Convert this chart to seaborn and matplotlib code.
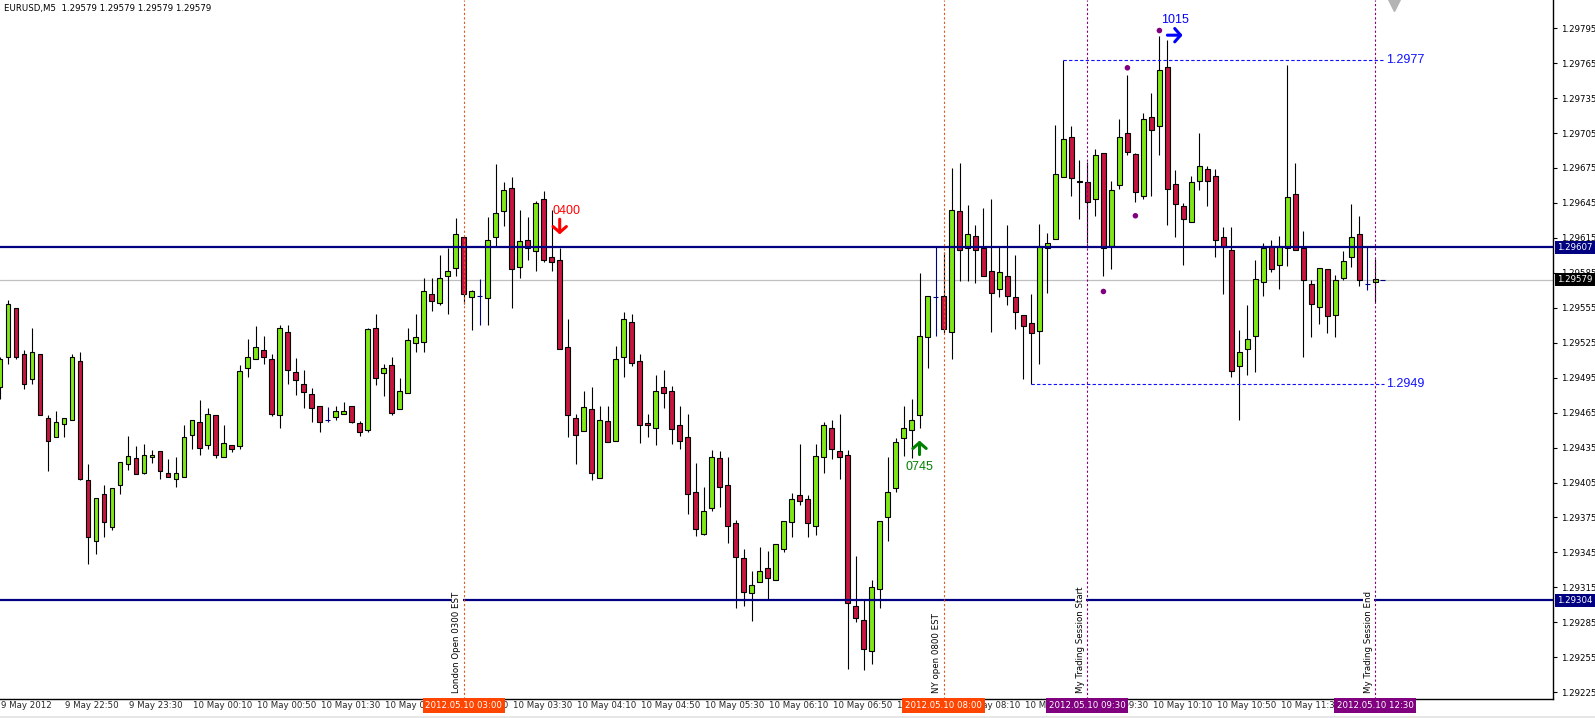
"""
plot.py - EURUSD M5 candlestick chart, MT4 style, 9-10 May 2012.
"""
import matplotlib
matplotlib.use("Agg")
import matplotlib.pyplot as plt
import matplotlib.transforms as mtransforms
from matplotlib.patches import Rectangle
import numpy as np
import pandas as pd
import seaborn as sns

# ---------------------------------------------------------------------------
# Data (5-minute bars, bar 0 = 9 May 22:10, bar 172 = 10 May 12:30)
# ---------------------------------------------------------------------------
opens = [
    1.29487, 1.29513, 1.29555, 1.29515, 1.29494, 1.29515, 1.29460, 1.29444, 1.29455, 1.29459,
    1.29509, 1.29407, 1.29355, 1.29395, 1.29367, 1.29403, 1.29421, 1.29426, 1.29413, 1.29427,
    1.29432, 1.29413, 1.29408, 1.29410, 1.29446, 1.29457, 1.29437, 1.29463, 1.29427, 1.29437,
    1.29436, 1.29503, 1.29511, 1.29519, 1.29511, 1.29463, 1.29534, 1.29500, 1.29490, 1.29481,
    1.29471, 1.29459, 1.29461, 1.29464, 1.29471, 1.29456, 1.29450, 1.29538, 1.29499, 1.29506,
    1.29468, 1.29482, 1.29525, 1.29526, 1.29567, 1.29559, 1.29582, 1.29589, 1.29616, 1.29564,
    1.29565, 1.29563, 1.29616, 1.29638, 1.29658, 1.29590, 1.29613, 1.29604, 1.29648, 1.29599,
    1.29596, 1.29521, 1.29460, 1.29449, 1.29468, 1.29409, 1.29458, 1.29441, 1.29513, 1.29543,
    1.29509, 1.29456, 1.29452, 1.29487, 1.29484, 1.29454, 1.29444, 1.29397, 1.29361, 1.29383,
    1.29426, 1.29403, 1.29370, 1.29340, 1.29310, 1.29320, 1.29332, 1.29321, 1.29348, 1.29371,
    1.29394, 1.29391, 1.29368, 1.29427, 1.29452, 1.29432, 1.29429, 1.29299, 1.29287, 1.29260,
    1.29314, 1.29375, 1.29400, 1.29443, 1.29450, 1.29463, 1.29530, 1.29564, 1.29565, 1.29534,
    1.29638, 1.29606, 1.29617, 1.29606, 1.29587, 1.29571, 1.29582, 1.29564, 1.29549, 1.29542,
    1.29535, 1.29606, 1.29614, 1.29667, 1.29702, 1.29663, 1.29663, 1.29648, 1.29688, 1.29608,
    1.29660, 1.29705, 1.29687, 1.29651, 1.29719, 1.29711, 1.29762, 1.29661, 1.29642, 1.29629,
    1.29664, 1.29674, 1.29668, 1.29616, 1.29605, 1.29505, 1.29520, 1.29531, 1.29577, 1.29608,
    1.29592, 1.29606, 1.29653, 1.29606, 1.29575, 1.29556, 1.29588, 1.29549, 1.29581, 1.29599,
    1.29618, 1.29575, 1.29577,
]
highs = [
    1.29513, 1.29562, 1.29555, 1.29519, 1.29538, 1.29515, 1.29463, 1.29466, 1.29460, 1.29515,
    1.29517, 1.29421, 1.29392, 1.29403, 1.29400, 1.29423, 1.29445, 1.29436, 1.29438, 1.29433,
    1.29432, 1.29425, 1.29427, 1.29454, 1.29459, 1.29476, 1.29469, 1.29463, 1.29454, 1.29437,
    1.29506, 1.29528, 1.29539, 1.29531, 1.29515, 1.29540, 1.29540, 1.29512, 1.29502, 1.29486,
    1.29471, 1.29470, 1.29471, 1.29474, 1.29471, 1.29458, 1.29538, 1.29550, 1.29507, 1.29513,
    1.29495, 1.29538, 1.29550, 1.29581, 1.29581, 1.29600, 1.29606, 1.29632, 1.29616, 1.29570,
    1.29580, 1.29633, 1.29678, 1.29663, 1.29667, 1.29639, 1.29633, 1.29647, 1.29655, 1.29639,
    1.29606, 1.29545, 1.29464, 1.29484, 1.29487, 1.29471, 1.29471, 1.29522, 1.29551, 1.29550,
    1.29515, 1.29464, 1.29497, 1.29502, 1.29488, 1.29471, 1.29464, 1.29422, 1.29401, 1.29433,
    1.29432, 1.29427, 1.29373, 1.29348, 1.29329, 1.29350, 1.29346, 1.29352, 1.29372, 1.29396,
    1.29438, 1.29394, 1.29438, 1.29457, 1.29459, 1.29464, 1.29433, 1.29342, 1.29304, 1.29321,
    1.29372, 1.29427, 1.29443, 1.29471, 1.29477, 1.29585, 1.29565, 1.29607, 1.29603, 1.29675,
    1.29679, 1.29643, 1.29626, 1.29641, 1.29648, 1.29608, 1.29626, 1.29600, 1.29549, 1.29567,
    1.29627, 1.29619, 1.29712, 1.29768, 1.29711, 1.29682, 1.29680, 1.29691, 1.29688, 1.29664,
    1.29717, 1.29755, 1.29688, 1.29722, 1.29739, 1.29788, 1.29785, 1.29673, 1.29645, 1.29668,
    1.29705, 1.29677, 1.29674, 1.29624, 1.29624, 1.29536, 1.29557, 1.29596, 1.29611, 1.29613,
    1.29617, 1.29763, 1.29679, 1.29621, 1.29579, 1.29589, 1.29588, 1.29583, 1.29604, 1.29644,
    1.29634, 1.29607, 1.29597,
]
lows = [
    1.29477, 1.29507, 1.29511, 1.29485, 1.29490, 1.29463, 1.29415, 1.29444, 1.29444, 1.29459,
    1.29407, 1.29335, 1.29344, 1.29358, 1.29364, 1.29395, 1.29416, 1.29412, 1.29412, 1.29422,
    1.29408, 1.29410, 1.29401, 1.29410, 1.29434, 1.29429, 1.29434, 1.29426, 1.29427, 1.29431,
    1.29434, 1.29496, 1.29511, 1.29507, 1.29462, 1.29452, 1.29490, 1.29480, 1.29469, 1.29457,
    1.29448, 1.29457, 1.29459, 1.29464, 1.29456, 1.29445, 1.29448, 1.29489, 1.29479, 1.29463,
    1.29468, 1.29482, 1.29517, 1.29517, 1.29552, 1.29557, 1.29550, 1.29582, 1.29558, 1.29536,
    1.29540, 1.29540, 1.29608, 1.29625, 1.29555, 1.29581, 1.29596, 1.29587, 1.29594, 1.29587,
    1.29520, 1.29444, 1.29421, 1.29449, 1.29407, 1.29409, 1.29440, 1.29441, 1.29496, 1.29505,
    1.29439, 1.29444, 1.29437, 1.29469, 1.29438, 1.29434, 1.29378, 1.29359, 1.29360, 1.29381,
    1.29384, 1.29353, 1.29297, 1.29299, 1.29286, 1.29320, 1.29305, 1.29321, 1.29345, 1.29358,
    1.29386, 1.29358, 1.29360, 1.29413, 1.29425, 1.29408, 1.29245, 1.29285, 1.29244, 1.29249,
    1.29297, 1.29355, 1.29397, 1.29428, 1.29426, 1.29452, 1.29503, 1.29531, 1.29533, 1.29511,
    1.29578, 1.29578, 1.29576, 1.29582, 1.29534, 1.29564, 1.29557, 1.29537, 1.29494, 1.29490,
    1.29507, 1.29568, 1.29614, 1.29667, 1.29651, 1.29631, 1.29611, 1.29634, 1.29582, 1.29588,
    1.29657, 1.29686, 1.29646, 1.29648, 1.29651, 1.29686, 1.29626, 1.29616, 1.29592, 1.29629,
    1.29656, 1.29642, 1.29599, 1.29567, 1.29496, 1.29459, 1.29497, 1.29500, 1.29565, 1.29586,
    1.29571, 1.29591, 1.29605, 1.29513, 1.29530, 1.29541, 1.29533, 1.29530, 1.29579, 1.29590,
    1.29574, 1.29570, 1.29560,
]
closes = [
    1.29511, 1.29558, 1.29513, 1.29490, 1.29517, 1.29463, 1.29441, 1.29457, 1.29460, 1.29513,
    1.29408, 1.29358, 1.29392, 1.29371, 1.29400, 1.29423, 1.29428, 1.29412, 1.29429, 1.29429,
    1.29415, 1.29410, 1.29413, 1.29444, 1.29459, 1.29435, 1.29464, 1.29429, 1.29439, 1.29434,
    1.29501, 1.29513, 1.29521, 1.29513, 1.29464, 1.29538, 1.29502, 1.29493, 1.29483, 1.29469,
    1.29457, 1.29459, 1.29466, 1.29466, 1.29457, 1.29448, 1.29537, 1.29495, 1.29503, 1.29465,
    1.29484, 1.29527, 1.29530, 1.29569, 1.29561, 1.29581, 1.29587, 1.29618, 1.29567, 1.29569,
    1.29565, 1.29613, 1.29636, 1.29656, 1.29588, 1.29612, 1.29606, 1.29645, 1.29596, 1.29594,
    1.29520, 1.29463, 1.29446, 1.29470, 1.29413, 1.29459, 1.29440, 1.29511, 1.29545, 1.29508,
    1.29454, 1.29454, 1.29484, 1.29482, 1.29451, 1.29441, 1.29395, 1.29365, 1.29381, 1.29427,
    1.29401, 1.29368, 1.29341, 1.29311, 1.29317, 1.29329, 1.29323, 1.29352, 1.29372, 1.29391,
    1.29389, 1.29370, 1.29428, 1.29454, 1.29434, 1.29427, 1.29302, 1.29289, 1.29262, 1.29315,
    1.29372, 1.29397, 1.29440, 1.29452, 1.29459, 1.29531, 1.29565, 1.29564, 1.29537, 1.29639,
    1.29605, 1.29618, 1.29605, 1.29582, 1.29568, 1.29586, 1.29565, 1.29551, 1.29539, 1.29533,
    1.29608, 1.29611, 1.29670, 1.29700, 1.29666, 1.29664, 1.29646, 1.29686, 1.29606, 1.29656,
    1.29702, 1.29689, 1.29654, 1.29717, 1.29708, 1.29759, 1.29657, 1.29644, 1.29631, 1.29663,
    1.29677, 1.29664, 1.29613, 1.29607, 1.29501, 1.29517, 1.29528, 1.29580, 1.29606, 1.29588,
    1.29608, 1.29650, 1.29605, 1.29579, 1.29558, 1.29589, 1.29548, 1.29579, 1.29595, 1.29616,
    1.29579, 1.29575, 1.29580,
]

# time axis labels, one every 8 bars (40 minutes); 12:10 sits under the 12:30 stamp
time_labels = [
    "9 May 2012", "9 May 22:50", "9 May 23:30", "10 May 00:10", "10 May 00:50",
    "10 May 01:30", "10 May 02:10", "10 May 02:50", "10 May 03:30", "10 May 04:10",
    "10 May 04:50", "10 May 05:30", "10 May 06:10", "10 May 06:50", "10 May 07:30",
    "10 May 08:10", "10 May 08:50", "10 May 09:30", "10 May 10:10", "10 May 10:50",
    "10 May 11:30",
]
price_ticks = [1.29225 + 0.0003 * k for k in range(20)]

# horizontal levels
support_levels = [1.29607, 1.29304]
bid_price = 1.29579

# vertical session markers
vline_bars = [58, 118, 136, 172]
vline_texts = ["London Open 0300 EST", "NY open 0800 EST",
               "My Trading Session Start", "My Trading Session End"]
vline_stamps = ["2012.05.10 03:00", "2012.05.10 08:00",
                "2012.05.10 09:30", "2012.05.10 12:30"]
vline_colors = ["#E8561E", "#E8561E", "#800080", "#800080"]
stamp_colors = ["#FF4500", "#FF4500", "#800080", "#800080"]

# session range (dashed)
range_high, range_high_from = 1.29768, 133
range_low, range_low_from = 1.29490, 129

# fractal-like dots
dot_bars = [138, 141, 142, 145]
dot_prices = [1.29569, 1.29761, 1.29634, 1.29793]

# time markers
marks = [
    dict(text="0400", color="#FF0000", bar=70, tip=1.29618, tail=1.29631, tx=69.1, ty=1.29638, ha="left"),
    dict(text="0745", color="#008000", bar=115, tip=1.29441, tail=1.29429, tx=115.0, ty=1.29418, ha="center"),
]

BULL = "#7FE818"
BEAR = "#C4173F"
NAVY = "#000080"

# ---------------------------------------------------------------------------
# Figure
# ---------------------------------------------------------------------------
sns.set_theme(style="white")
plt.rcParams["font.family"] = ["DejaVu Sans"]

W, H = 1595, 718
AX_RIGHT, AX_BOTTOM = 1553, 699
fig = plt.figure(figsize=(W / 100, H / 100), dpi=100)
fig.patch.set_facecolor("white")
ax = fig.add_axes([0, (H - AX_BOTTOM) / H, AX_RIGHT / W, AX_BOTTOM / H])
ax.set_facecolor("white")

# thin grey strip at the very bottom of the window
fig.patches.append(Rectangle((0, 0), 1, 2.5 / H, transform=fig.transFigure,
                             facecolor="#E6E6E6", edgecolor="none", zorder=0))

df = pd.DataFrame({"o": opens, "h": highs, "l": lows, "c": closes})
df["i"] = np.arange(len(df))
doji = df["o"] == df["c"]
bull = df["c"] > df["o"]
bear = df["c"] < df["o"]

# wicks
nd = df[~doji]
ax.vlines(nd["i"], nd["l"], nd["h"], color="black", lw=0.8, zorder=2)

# bodies
for mask, col in ((bull, BULL), (bear, BEAR)):
    sub = df[mask]
    ax.bar(sub["i"], (sub["c"] - sub["o"]).abs(), bottom=sub[["o", "c"]].min(axis=1),
           width=0.6, color=col, edgecolor="black", linewidth=0.8, zorder=3)

# doji bars drawn as crosses
dj = df[doji]
ax.vlines(dj["i"], dj["l"], dj["h"], color=NAVY, lw=0.8, zorder=3)
ax.hlines(dj["o"], dj["i"] - 0.3, dj["i"] + 0.3, color=NAVY, lw=0.8, zorder=3)

# price lines
ax.axhline(bid_price, color="#C0C0C0", lw=0.9, zorder=1)
for lvl in support_levels:
    ax.axhline(lvl, color=NAVY, lw=1.6, zorder=4)
ax.hlines(bid_price, 172.6, 173.2, color=NAVY, lw=0.8, zorder=4)

# session range
ax.hlines(range_high, range_high_from, 173.1, colors="#1010FF", linestyles=(0, (3, 2)), lw=0.8, zorder=4)
ax.hlines(range_low, range_low_from, 173.1, colors="#1010FF", linestyles=(0, (3, 2)), lw=0.8, zorder=4)
for lvl in (range_high, range_low):
    ax.text(173.4, lvl, f"{lvl:.4f}", color="#1010FF", fontsize=9, family=["Liberation Sans"],
            ha="left", va="center", zorder=6)

# vertical session lines
YMIN, YMAX = 1.292192, 1.298192
for bar, col, txt in zip(vline_bars, vline_colors, vline_texts):
    ax.axvline(bar, color=col, lw=0.8, ls=(0, (2, 2)), zorder=4)
    ax.text(bar - 0.86, 1.29224, txt, rotation=90, ha="center", va="bottom", fontsize=6.2,
            color="black", zorder=5,
            bbox=dict(boxstyle="square,pad=0.15", fc="white", ec="none"))

# dots
sns.scatterplot(x=dot_bars, y=dot_prices, color="#800080", s=16, edgecolor="none",
                ax=ax, zorder=6, legend=False)

# markers with arrows
for m in marks:
    ax.annotate("", xy=(m["bar"], m["tip"]), xytext=(m["bar"], m["tail"]),
                arrowprops=dict(arrowstyle="->,head_width=0.4,head_length=0.35", lw=2.2,
                                color=m["color"], shrinkA=0, shrinkB=0, mutation_scale=12),
                zorder=6)
    ax.text(m["tx"], m["ty"], m["text"], color=m["color"], fontsize=9, family=["Liberation Sans"],
            ha=m["ha"], va="center", zorder=6)
ax.annotate("", xy=(147.9, 1.29789), xytext=(146.0, 1.29789),
            arrowprops=dict(arrowstyle="->,head_width=0.4,head_length=0.35", lw=2.2,
                            color="#0000FF", shrinkA=0, shrinkB=0, mutation_scale=12), zorder=6)
ax.text(146.9, 1.29802, "1015", color="#0000FF", fontsize=9, family=["Liberation Sans"],
        ha="center", va="center", zorder=6)

# chart shift marker
ax.plot([174.4], [1.29815], marker="v", ms=8, color="#B4B4B4", clip_on=False, zorder=6)

# axes
X0 = 0.1
ax.set_xlim(X0, AX_RIGHT / 8 + X0)
ax.set_ylim(YMIN, YMAX)
for side in ("left", "top"):
    ax.spines[side].set_visible(False)
for side in ("right", "bottom"):
    ax.spines[side].set_color("black")
    ax.spines[side].set_linewidth(1.0)

ax.yaxis.tick_right()
ax.set_yticks(price_ticks)
ax.set_yticklabels([f"{v:.5f}" for v in price_ticks])
ax.tick_params(axis="y", length=3, width=0.8, pad=3, labelsize=6.2, colors="black", direction="out")

tick_bars = list(range(0, 169, 8))
ax.set_xticks(tick_bars)
ax.tick_params(axis="x", length=3, width=0.8, labelbottom=False, colors="black", direction="out")
ax.grid(False)

tx = mtransforms.blended_transform_factory(ax.transData, fig.transFigure)
ty_label = 12.5 / H
for bar, lab in zip(tick_bars, time_labels):
    ax.text(bar + 0.15, ty_label, lab, transform=tx, fontsize=6.2, ha="left", va="center",
            clip_on=False, zorder=5)
for bar, lab, col in zip(vline_bars, vline_stamps, stamp_colors):
    ax.text(bar, ty_label, lab, transform=tx, fontsize=6.2, ha="center", va="center", color="white",
            clip_on=False, zorder=7, bbox=dict(boxstyle="square,pad=0.3", fc=col, ec="none"))

# right axis price boxes
ry = mtransforms.blended_transform_factory(ax.transAxes, ax.transData)
for lvl, col in ((support_levels[0], NAVY), (support_levels[1], NAVY), (bid_price, "black")):
    ax.text(1.0 + 4 / AX_RIGHT, lvl, f"{lvl:.5f}", transform=ry, fontsize=6.2, color="white",
            ha="left", va="center", clip_on=False, zorder=7,
            bbox=dict(boxstyle="square,pad=0.25", fc=col, ec="none"))

fig.text(4 / W, 1 - 9 / H, "EURUSD,M5  1.29579 1.29579 1.29579 1.29579", fontsize=6.2,
         ha="left", va="center", color="black")

fig.savefig("out.png", dpi=100, facecolor="white")
